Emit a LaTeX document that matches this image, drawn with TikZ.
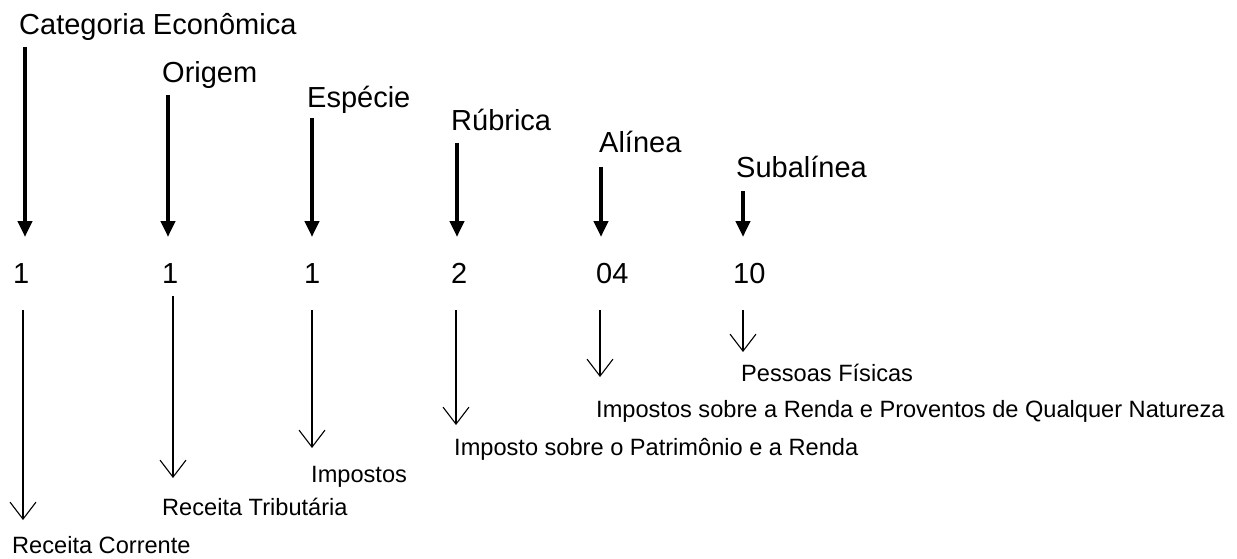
\documentclass[tikz,border=0pt]{standalone}
\usepackage{fontspec}
\setmainfont{Liberation Sans}
\usetikzlibrary{arrows.meta}
\begin{document}
\begin{tikzpicture}[x=1pt,y=-1pt,
  big/.style={anchor=base west,inner sep=0pt,font=\fontsize{29}{32}\selectfont},
  small/.style={anchor=base west,inner sep=0pt,font=\fontsize{23.6}{26}\selectfont},
  heavyarrow/.style={line width=4.5pt,-{Triangle[length=16pt,width=14pt]}},
  lightarrow/.style={line width=1.1pt,-{Straight Barb[length=17pt,width=26pt,line width=1.1pt]}}]
\useasboundingbox (0,0) rectangle (1237,559);
% top labels
\node[big] (lab1) at (19,35) {Categoria Econômica};
\node[big] (lab2) at (162,83) {Origem};
\node[big] (lab3) at (307,108) {Espécie};
\node[big] (lab4) at (451,131) {Rúbrica};
\node[big] (lab5) at (599,153) {Alínea};
\node[big] (lab6) at (736,177) {Subalínea};
% numbers
\node[big] (n1) at (13,283) {1};
\node[big] (n2) at (162,283) {1};
\node[big] (n3) at (304,283) {1};
\node[big] (n4) at (451,283) {2};
\node[big] (n5) at (596,283) {04};
\node[big] (n6) at (733,283) {10};
% bottom labels
\node[small] (d1) at (12,553) {Receita Corrente};
\node[small] (d2) at (162,515) {Receita Tributária};
\node[small] (d3) at (311,482) {Impostos};
\node[small] (d4) at (454,455) {Imposto sobre o Patrimônio e a Renda};
\node[small] (d5) at (596,417) {Impostos sobre a Renda e Proventos de Qualquer Natureza};
\node[small] (d6) at (741,381) {Pessoas Físicas};
% heavy arrow endpoints
\coordinate (a1) at (25,47);  \coordinate (b1) at (25,237);
\coordinate (a2) at (168,95); \coordinate (b2) at (168,237);
\coordinate (a3) at (312,118);\coordinate (b3) at (312,237);
\coordinate (a4) at (457,143);\coordinate (b4) at (457,237);
\coordinate (a5) at (601,167);\coordinate (b5) at (601,237);
\coordinate (a6) at (743,191);\coordinate (b6) at (743,237);
\foreach \i in {1,...,6} \draw[heavyarrow] (a\i) -- (b\i);
% light arrow endpoints
\coordinate (p1) at (23,310);  \coordinate (q1) at (23,520);
\coordinate (p2) at (173,296); \coordinate (q2) at (173,478);
\coordinate (p3) at (312,310); \coordinate (q3) at (312,448);
\coordinate (p4) at (456,310); \coordinate (q4) at (456,425);
\coordinate (p5) at (600,310); \coordinate (q5) at (600,377);
\coordinate (p6) at (743,310); \coordinate (q6) at (743,352);
\foreach \i in {1,...,6} \draw[lightarrow] (p\i) -- (q\i);
\end{tikzpicture}
\end{document}
